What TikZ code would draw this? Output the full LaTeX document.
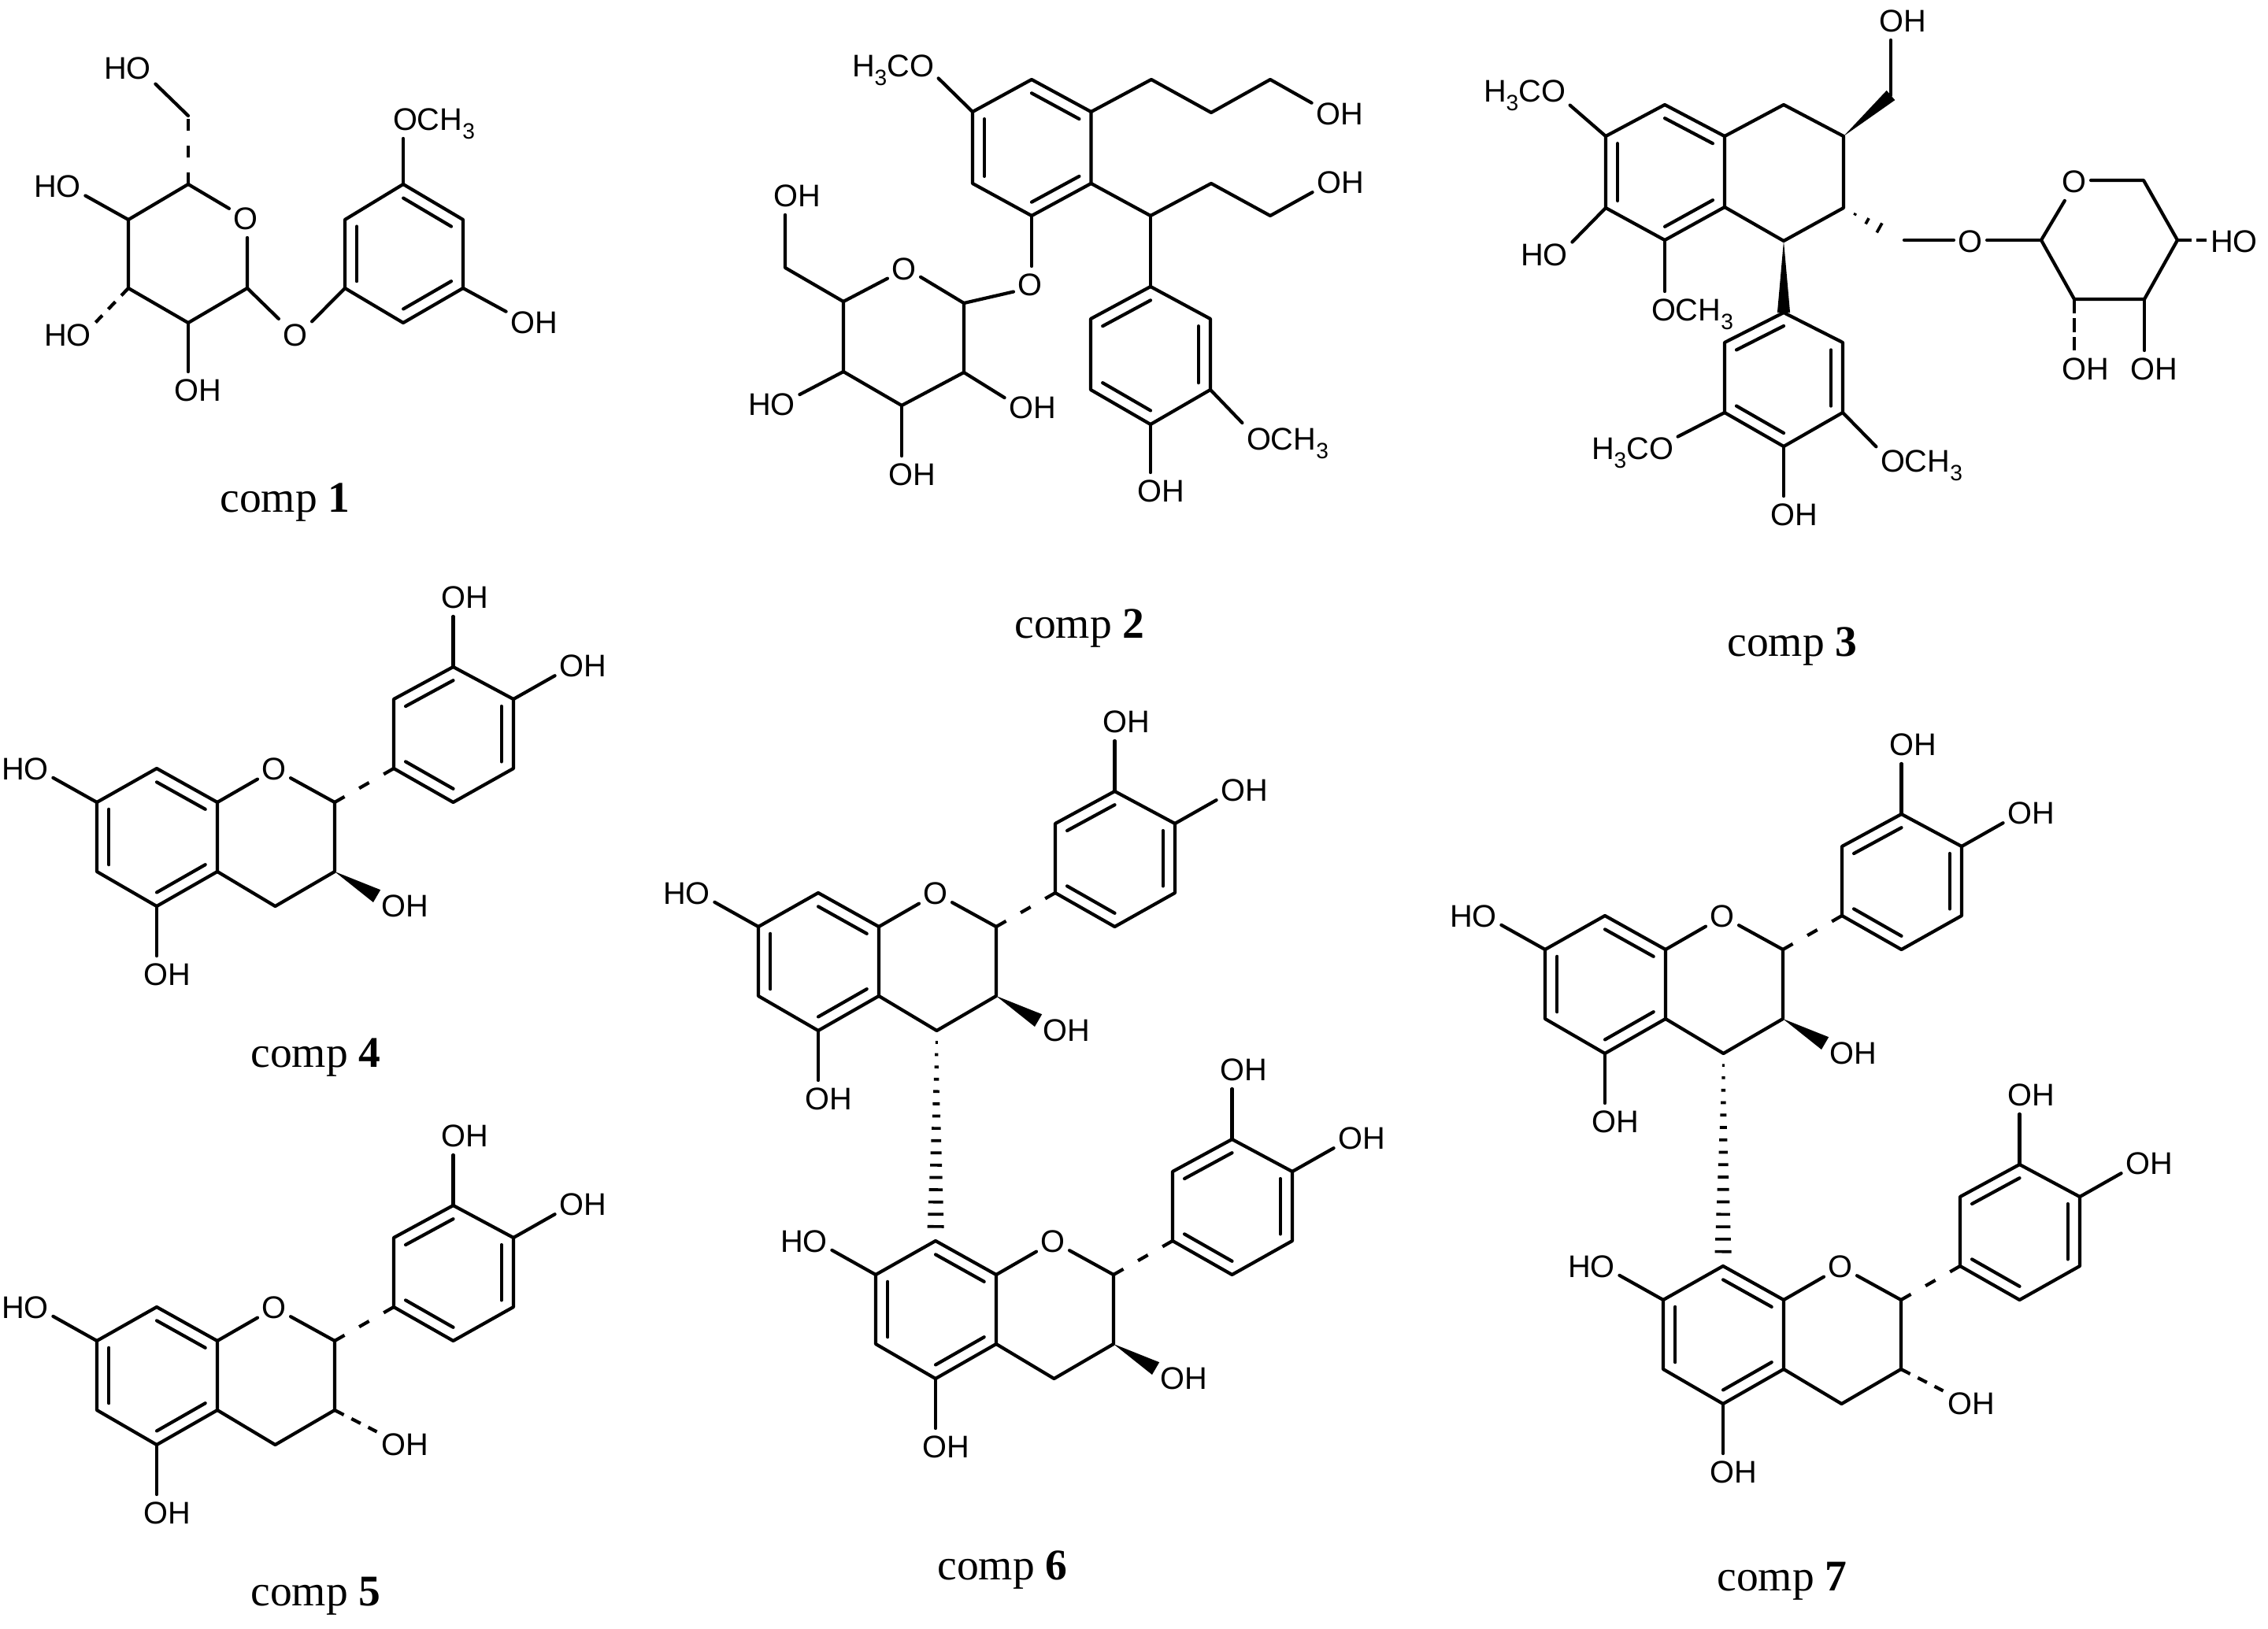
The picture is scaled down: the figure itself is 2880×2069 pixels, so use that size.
\documentclass[tikz,border=0pt]{standalone}
\usepackage{fontspec}
\setmainfont{Liberation Sans}
\newfontfamily\capfont{Liberation Serif}
\usetikzlibrary{calc}
\newcommand\subth{\smash{\raisebox{-0.28em}{\fontsize{8pt}{9pt}\selectfont 3}}}
\tikzset{
  bond/.style={line width=1.2pt,line cap=round,line join=round,black},
  dashbond/.style={line width=1.2pt,line cap=butt,black,dash pattern=on 4.1pt off 6.1pt},
  shortdash/.style={line width=1.2pt,line cap=butt,black,dash pattern=on 3.7pt off 3.1pt},
  longdash/.style={line width=1.2pt,line cap=butt,black,dash pattern=on 5.1pt off 1.7pt},
  hashbar/.style={line width=1.05pt,line cap=butt,black},
  atom/.style={font=\fontsize{11.3pt}{13pt}\selectfont,inner xsep=1.4pt,inner ysep=2.6pt,text=black},
  caption/.style={font=\capfont\fontsize{15.8pt}{18pt}\selectfont,anchor=base,inner sep=0pt,text=black}
}
% inner line of a double bond: ring centre, then the two atoms
\newcommand\innerbond[3]{\draw[bond] ($(#1)!0.8!(#2)$) -- ($(#1)!0.8!(#3)$);}
% solid wedge: narrow atom, wide end, half width
\newcommand\wedgebond[3]{\fill[black,line join=round] (#1) -- ($(#2)!#3!90:(#1)$) -- ($(#2)!#3!-90:(#1)$) -- cycle;}
% hashed wedge: from, to, last index, first and last fraction, first and last half width (px)
\newcommand\hashbond[7]{\foreach \i in {0,...,#3}{%
  \pgfmathsetmacro\hashT{#4+(#5-#4)*\i/#3}%
  \pgfmathsetmacro\hashW{(#6+(#7-#6)*\i/#3)*0.2845}%
  \coordinate (hp) at ($(#1)!\hashT!(#2)$);
  \draw[hashbar] ($(hp)!\hashW pt!90:(#2)$) -- ($(hp)!\hashW pt!-90:(#2)$);}}
\newcommand\cthreewedge{\wedgebond{c3}{oh3.160}{2.6pt}}
\newcommand\cthreedash{\draw[shortdash] (c3) -- (oh3.155);}
% flavan-3-ol unit
\newcommand\flavan[4]{%
\begin{scope}[shift={(#2,#3)},name prefix=#1-]
  \coordinate (a1) at (199,976);
  \coordinate (a2) at (276,1019);
  \coordinate (a3) at (276,1107);
  \coordinate (a4) at (199,1151);
  \coordinate (a5) at (123,1107);
  \coordinate (a6) at (123,1019);
  \coordinate (ca) at (199.5,1063);
  \coordinate (c2) at (425,1019);
  \coordinate (c3) at (425,1107);
  \coordinate (c4) at (349.5,1151);
  \coordinate (b1) at (500,976);
  \coordinate (b2) at (500,888);
  \coordinate (b3) at (575.5,847);
  \coordinate (b4) at (652,888);
  \coordinate (b5) at (652,976);
  \coordinate (b6) at (575.5,1019);
  \coordinate (cb) at (575.5,933);
  \node[atom] (ho7) at (32,977) {HO};
  \node[atom] (oh5) at (212,1238) {OH};
  \node[atom] (o1) at (348,977) {O};
  \node[atom] (oh3) at (514,1151) {OH};
  \node[atom] (oh3p) at (590,759) {OH};
  \node[atom] (oh4p) at (740,846) {OH};
  \draw[bond] (a1) -- (a2) -- (a3) -- (a4) -- (a5) -- (a6) -- cycle;
  \innerbond{ca}{a1}{a2}
  \innerbond{ca}{a5}{a6}
  \innerbond{ca}{a3}{a4}
  \draw[bond] (a2) -- (o1.211);
  \draw[bond] (o1.-28) -- (c2) -- (c3) -- (c4) -- (a3);
  \draw[bond] (b1) -- (b2) -- (b3) -- (b4) -- (b5) -- (b6) -- cycle;
  \innerbond{cb}{b2}{b3}
  \innerbond{cb}{b4}{b5}
  \innerbond{cb}{b1}{b6}
  \draw[dashbond] (c2) -- (b1);
  \draw[bond] (a6) -- (ho7.-17);
  \draw[bond] (a4) -- (a4 |- oh5.north);
  \draw[bond] (b3) -- (b3 |- oh3p.south);
  \draw[bond] (b4) -- (oh4p.199);
  #4
\end{scope}}
\begin{document}
\begin{tikzpicture}[x=0.01cm,y=-0.01cm]
\useasboundingbox (0,0) rectangle (2880,2069);
\fill[white] (0,0) rectangle (2880,2069);

% ---------- comp 1
\coordinate (A5) at (239,234);
\coordinate (A4) at (163,279);
\coordinate (A3) at (163,366);
\coordinate (A2) at (239,410);
\coordinate (A1) at (314,366);
\coordinate (A6) at (239,147);
\coordinate (Ar1) at (438,279);
\coordinate (Ar2) at (512,234);
\coordinate (Ar3) at (588,279);
\coordinate (Ar4) at (588,366);
\coordinate (Ar5) at (512,410);
\coordinate (Ar6) at (438,366);
\coordinate (ArC) at (513,322);
\node[atom] (Aho6) at (162,87) {HO};
\node[atom] (Aho4) at (73,237) {HO};
\node[atom] (Aho3) at (86,426) {HO};
\node[atom] (Aoh2) at (251,496) {OH};
\node[atom] (Ao5) at (312,278) {O};
\node[atom] (Aog) at (375,426) {O};
\node[atom] (Aome) at (551,152) {OCH\subth};
\node[atom] (Aoh) at (678,410) {OH};
\draw[bond] (Aho6.-29) -- (A6);
\draw[dashbond,dash pattern=on 4.3pt off 5.4pt] (A5) -- (A6);
\draw[bond] (Ao5.148) -- (A5) -- (A4) -- (A3) -- (A2) -- (A1) -- (A1 |- Ao5.south);
\draw[bond] (A4) -- (Aho4.-18);
\draw[shortdash] (A3) -- (Aho3.25);
\draw[bond] (A2) -- (A2 |- Aoh2.north);
\draw[bond] (A1) -- (Aog.135);
\draw[bond] (Aog.40) -- (Ar6);
\draw[bond] (Ar1) -- (Ar2) -- (Ar3) -- (Ar4) -- (Ar5) -- (Ar6) -- cycle;
\innerbond{ArC}{Ar1}{Ar6}
\innerbond{ArC}{Ar2}{Ar3}
\innerbond{ArC}{Ar4}{Ar5}
\draw[bond] (Ar2) -- (Ar2 |- Aome.south);
\draw[bond] (Ar4) -- (Aoh.158);
\node[caption] (cap1) at (362,650) {comp \textbf{1}};

% ---------- comp 2
\coordinate (B1) at (1310,101);
\coordinate (B2) at (1385.5,142);
\coordinate (B3) at (1385.5,233);
\coordinate (B4) at (1310,274);
\coordinate (B5) at (1235,233);
\coordinate (B6) at (1235,142);
\coordinate (BC) at (1310,187.5);
\coordinate (Bc1) at (1462,101);
\coordinate (Bc2) at (1538,143);
\coordinate (Bc3) at (1613,101);
\coordinate (Bd1) at (1461,274);
\coordinate (Bd2) at (1538,233);
\coordinate (Bd3) at (1613,274);
\coordinate (P1) at (1461,364);
\coordinate (P2) at (1537,405);
\coordinate (P3) at (1537,495);
\coordinate (P4) at (1461,539);
\coordinate (P5) at (1385,495);
\coordinate (P6) at (1385,405);
\coordinate (PC) at (1461,451);
\coordinate (G1) at (1224,385);
\coordinate (G2) at (1224,473);
\coordinate (G3) at (1145,515);
\coordinate (G4) at (1071,472);
\coordinate (G5) at (1071,383);
\coordinate (G6) at (997,340);
\node[atom] (Bome) at (1134,84) {H\subth CO};
\node[atom] (Boh1) at (1701,145) {OH};
\node[atom] (Boh2) at (1702,232) {OH};
\node[atom] (Bome2) at (1635,558) {OCH\subth};
\node[atom] (Boh3) at (1474,624) {OH};
\node[atom] (Bog) at (1308,362) {O};
\node[atom] (Bos) at (1148,342) {O};
\node[atom] (Boh6) at (1012,249) {OH};
\node[atom] (Bho4) at (980,514) {HO};
\node[atom] (Boh22) at (1311,518) {OH};
\node[atom] (Boh33) at (1158,603) {OH};
\draw[bond] (B1) -- (B2) -- (B3) -- (B4) -- (B5) -- (B6) -- cycle;
\innerbond{BC}{B1}{B2}
\innerbond{BC}{B5}{B6}
\innerbond{BC}{B3}{B4}
\draw[bond] (B6) -- (Bome.-15);
\draw[bond] (B2) -- (Bc1) -- (Bc2) -- (Bc3) -- (Boh1.158);
\draw[bond] (B3) -- (Bd1) -- (Bd2) -- (Bd3) -- (Boh2.199);
\draw[bond] (Bd1) -- (P1);
\draw[bond] (P1) -- (P2) -- (P3) -- (P4) -- (P5) -- (P6) -- cycle;
\innerbond{PC}{P1}{P6}
\innerbond{PC}{P2}{P3}
\innerbond{PC}{P4}{P5}
\draw[bond] (P3) -- (Bome2.160);
\draw[bond] (P4) -- (P4 |- Boh3.north);
\draw[bond] (B4) -- (B4 |- Bog.north);
\draw[bond] (Bog.202) -- (G1) -- (G2) -- (G3) -- (G4) -- (G5) -- (Bos.209);
\draw[bond] (Bos.-25) -- (G1);
\draw[bond] (G5) -- (G6) -- (G6 |- Boh6.south);
\draw[bond] (G4) -- (Bho4.20);
\draw[bond] (G2) -- (Boh22.160);
\draw[bond] (G3) -- (G3 |- Boh33.north);
\node[caption] (cap2) at (1371,810) {comp \textbf{2}};

% ---------- comp 3
\coordinate (R1) at (2114,133);
\coordinate (R2) at (2190,173);
\coordinate (R3) at (2190,263);
\coordinate (R4) at (2114,305);
\coordinate (R5) at (2039,264);
\coordinate (R6) at (2039,173);
\coordinate (RC) at (2114.5,219);
\coordinate (L1) at (2265,133);
\coordinate (L2) at (2341,173);
\coordinate (L3) at (2341,264);
\coordinate (L4) at (2265,306);
\coordinate (Lch) at (2401,121);
\coordinate (Lh) at (2402,298);
\coordinate (Ls) at (2418,305);
\coordinate (S1) at (2592,305);
\coordinate (S2) at (2634,380);
\coordinate (S3) at (2723,380);
\coordinate (S4) at (2765,305);
\coordinate (S5) at (2722,229);
\coordinate (T1) at (2265,397);
\coordinate (T2) at (2340,435);
\coordinate (T3) at (2340,524);
\coordinate (T4) at (2265,567);
\coordinate (T5) at (2190,524);
\coordinate (T6) at (2190,435);
\coordinate (TC) at (2265,482);
\node[atom] (Coh) at (2416,27) {OH};
\node[atom] (Come) at (1936,116) {H\subth CO};
\node[atom] (Cho) at (1961,324) {HO};
\node[atom] (Come2) at (2149,394) {OCH\subth};
\node[atom] (Come3) at (2073,570) {H\subth CO};
\node[atom] (Come4) at (2440,586) {OCH\subth};
\node[atom] (Coh2) at (2278,654) {OH};
\node[atom] (Cog) at (2502,307) {O};
\node[atom] (Cos) at (2634,231) {O};
\node[atom] (Cho4) at (2837,307) {HO};
\node[atom] (Coh3) at (2648,469) {OH};
\node[atom] (Coh4) at (2735,469) {OH};
\draw[bond] (R1) -- (R2) -- (R3) -- (R4) -- (R5) -- (R6) -- cycle;
\innerbond{RC}{R1}{R2}
\innerbond{RC}{R5}{R6}
\innerbond{RC}{R3}{R4}
\draw[bond] (R2) -- (L1) -- (L2) -- (L3) -- (L4) -- (R3);
\wedgebond{L2}{Lch}{2.3pt}
\draw[bond] (Lch) -- (Lch |- Coh.south);
\draw[bond] (R6) -- (Come.-17);
\draw[bond] (R5) -- (Cho.25);
\draw[bond] (R4) -- (R4 |- Come2.north);
\wedgebond{L4}{T1}{2.3pt}
\draw[bond] (T1) -- (T2) -- (T3) -- (T4) -- (T5) -- (T6) -- cycle;
\innerbond{TC}{T1}{T6}
\innerbond{TC}{T2}{T3}
\innerbond{TC}{T4}{T5}
\draw[bond] (T5) -- (Come3.15);
\draw[bond] (T3) -- (Come4.162);
\draw[bond] (T4) -- (T4 |- Coh2.north);
\hashbond{L3}{Lh}{3}{0.24}{1}{1.5}{9.5}
\draw[bond] (Ls) -- (Ls -| Cog.west);
\draw[bond] (S1 -| Cog.east) -- (S1);
\draw[bond] (Cos.243) -- (S1) -- (S2) -- (S3) -- (S4) -- (S5) -- (S5 -| Cos.east);
\draw[longdash] (S4) -- (S4 -| Cho4.west);
\draw[longdash] (S2) -- (S2 |- Coh3.north);
\draw[bond] (S3) -- (S3 |- Coh4.north);
\node[caption] (cap3) at (2276,833) {comp \textbf{3}};

% ---------- comp 4 and 5
\flavan{fd}{0}{0}{\cthreewedge}
\node[caption] (cap4) at (401,1355) {comp \textbf{4}};
\flavan{fe}{0}{684}{\cthreedash}
\node[caption] (cap5) at (401,2039) {comp \textbf{5}};

% ---------- comp 6
\flavan{ff}{840}{158}{\cthreewedge}
\flavan{fg}{989}{600}{\cthreewedge}
\hashbond{ff-c4}{fg-a1}{15}{0.056}{0.932}{1.5}{10.5}
\node[caption] (cap6) at (1273,2006) {comp \textbf{6}};

% ---------- comp 7
\flavan{fh}{1839}{187}{\cthreewedge}
\flavan{fi}{1989}{632}{\cthreedash}
\hashbond{fh-c4}{fi-a1}{15}{0.056}{0.932}{1.5}{10.5}
\node[caption] (cap7) at (2263,2020) {comp \textbf{7}};
\end{tikzpicture}
\end{document}
